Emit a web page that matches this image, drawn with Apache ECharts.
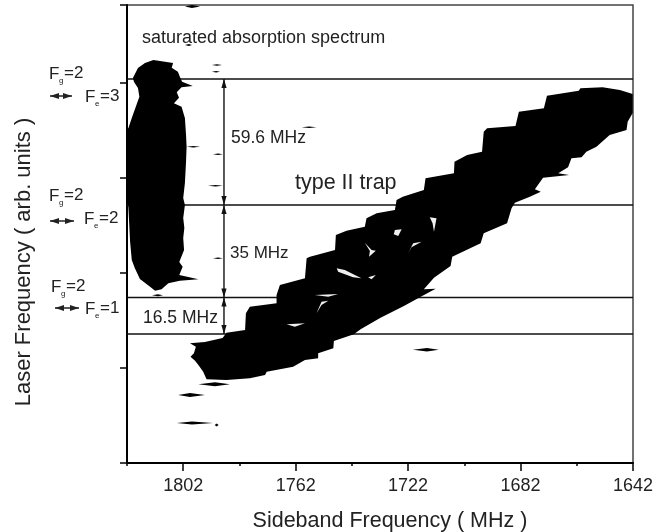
<!DOCTYPE html>
<html>
<head>
<meta charset="utf-8">
<style>html,body{margin:0;padding:0;background:#fff}#c{width:667px;height:532px}</style>
<script src="https://cdn.jsdelivr.net/npm/echarts@6/dist/echarts.min.js"></script>
</head>
<body>
<div id="c"></div>
<script>
// Sideband frequency axis (MHz, decreasing to the right); laser frequency in arb. units
const majorTicks = [1802, 1762, 1722, 1682, 1642];
const minorTicks = [1822, 1782, 1742, 1702, 1662];
const hyperfineLevels = [384, 258, 165.5, 129];
const levelSpacings = [[384, 258], [258, 165.5], [165.5, 129]];
const spacingMHz = 1787.5;

// Contour of the vertical (saturated absorption) region
const absorptionContour = [
[1812.6,403],[1808.5,401.3],[1805.6,400],[1806.1,395.3],[1803.9,391.3],[1803.2,386.3],[1802.4,381.3],[1798.6,377],
[1802.6,375.7],[1804.3,370.7],[1803.5,365.3],[1805.3,359.7],[1802.6,356.3],[1801.4,345],[1801,328],[1800.8,316.3],
[1801,301.3],[1801.4,280],[1802,265],[1801.4,258],[1802,245],[1801.6,235],[1802,225],[1801.7,213],[1803.4,201],
[1802.2,196.3],[1803.4,188],[1796.6,183.7],[1803.2,182.3],[1807.3,179.7],[1809.7,173.7],[1812,172.3],[1813.8,176.3],
[1817.4,184],[1819.2,194.7],[1820.3,203],[1820.9,221.3],[1821.5,255],[1822,268],[1822,333],[1821.5,335],[1820.3,345],
[1817.6,366.3],[1818.1,375],[1819.5,381],[1819.9,385],[1818.1,395],[1815.6,400]
];
// Contour of the diagonal (type II trap) region
const trapContour = [
[1799.4,106.3],[1798.2,109.7],[1797.5,116.3],[1799.6,119.7],[1794.3,121],[1788,125],[1786.6,130.3],[1780,133],
[1779.7,149.7],[1778.3,156.3],[1768.8,159.7],[1768.8,168],[1767.6,178],[1758.7,184.7],[1758.1,204.7],[1756.9,206.3],
[1748,213],[1747.7,228],[1743.9,232.3],[1737.4,236.3],[1736.8,244.7],[1733.2,249.7],[1726.7,253],[1726.1,263],
[1723.9,266.3],[1716.4,273],[1715.8,284.7],[1705.7,289.7],[1705.5,301.3],[1701,308],[1695.7,311.3],[1695.1,331.3],
[1693.9,334.7],[1683.8,337],[1682.6,351.3],[1673.7,354.7],[1672.6,367.3],[1661.3,372.3],[1660.7,374.7],[1652.8,375.7],
[1646.7,373],[1642.1,369],[1642.1,350],[1643.9,341.3],[1644.3,333],[1650.3,328],[1655,316.3],[1658.6,311.3],
[1660.3,305.7],[1663.9,304.7],[1665.1,295.7],[1668.6,289.7],[1664.7,288],[1674,285.3],[1676.9,273.7],[1674.8,271.3],
[1678.7,266.3],[1684,260.3],[1685.2,254.7],[1686.8,239.7],[1695.1,229.7],[1696.2,219.7],[1706.3,206.3],[1706.9,197],
[1712.8,185.3],[1716.4,173.7],[1712.2,174.3],[1717,167],[1723.5,157],[1731.8,145.3],[1738.9,133.7],[1741.3,128.7],
[1748.4,122],[1748.6,114.7],[1754,109.7],[1754,104.7],[1758.7,103],[1762.9,96.3],[1772.3,91.3],[1772.9,88],
[1778.3,84.7],[1786.6,83],[1793.7,83.7],[1794.9,91.3],[1796.6,98],[1797.8,102.3]
];
// Low-signal gaps inside the trap region
const gapA = [[1747.4,194.7],[1744.5,193],[1738.6,184.7],[1741.6,185.7],[1746.9,191.3]];
const gapB = [[1736.2,185.7],[1733.5,188],[1735,183.7]];
const gapC = [[1726.7,233],[1724.3,233.7],[1725.5,227],[1727.1,228.7]];
const gapD = [[1714.3,245.7],[1711.9,244.7],[1712.8,231.3],[1713.3,239.7]];
const gapE = [[1722,209.7],[1720.2,219.7],[1717.2,221.3],[1720.8,215.7]];
const gapF = [[1737.4,220.3],[1735,213],[1733.5,212.3],[1735.9,206.3],[1735.6,212]];
const gapG = [[1755.2,168],[1746.9,169],[1750.4,166.3]];
const gapH = [[1754.6,149.7],[1752.8,161.3],[1750.4,162.3],[1752.8,158]];
const gapI = [[1765.2,138.7],[1758.7,139.7],[1762.3,136.3]];
const gaps = [gapA, gapB, gapC, gapD, gapE, gapF, gapG, gapH, gapI];
// Isolated thin features: [MHz start, MHz centre, MHz end, arb. level, arb. half thickness]
const streaks = [
[1796.6,1790.7,1785.4,78.7,2],[1803.8,1799.6,1794.3,68,2],[1804.3,1798.9,1791.4,40,1.5],[1790.8,1790.1,1789.4,38,1.6],
[1720.3,1715.3,1711.1,113.3,1.8],[1801.4,1798.9,1796,456.5,1.5],[1801.4,1800,1798.9,418,1],[1791.8,1790,1788.2,398,0.8],
[1791.8,1790.3,1788.9,391.3,0.8],[1759.9,1757.2,1754.6,335.7,0.7],[1791.4,1789.6,1787.9,308.7,0.7],[1793.2,1790.5,1787.9,277.3,0.7],
[1791.4,1789.6,1787.9,204.7,0.7],[1813.1,1811,1809.2,167.7,1],[1800.8,1798.4,1796,316.3,0.8]
];
const streakPolys = streaks.map(s => [[s[0],s[3]],[s[1],s[3]+s[4]],[s[2],s[3]],[s[1],s[3]-s[4]]]);
const blackShapes = [absorptionContour, trapContour].concat(streakPolys);

const FONT = '"Liberation Sans", Arial, sans-serif';
const INK = '#222';
function polySeries(name, shapes, fill, z) {
  return {
    type: 'custom', name, coordinateSystem: 'cartesian2d', xAxisIndex: 0, yAxisIndex: 0, silent: true, z,
    data: shapes.map((s, i) => [s[0][0], s[0][1], i]),
    renderItem: (p, api) => ({
      type: 'polygon',
      shape: { points: shapes[p.dataIndex].map(v => api.coord(v)) },
      style: { fill }
    })
  };
}
function txt(x, y, text, size, extra) {
  return Object.assign({ type: 'text', x, y, silent: true, z: 20,
    style: { text, fontFamily: FONT, fontSize: size, fill: INK, verticalAlign: 'middle', textAlign: 'left' } }, extra || {});
}
function level(xF, y, sub, rest) {
  return [txt(xF, y, 'F', 17), txt(xF + 10, y + 7, sub, 8), txt(xF + 15, y - 1, rest, 17)];
}
function dblArrow(x0, x1, y) {
  const c = '#222';
  return [
    { type: 'line', shape: { x1: x0, y1: y, x2: x1, y2: y }, style: { stroke: c, lineWidth: 1.5 }, silent: true },
    { type: 'polygon', shape: { points: [[x0, y], [x0 + 9, y - 3], [x0 + 9, y + 3]] }, style: { fill: c }, silent: true },
    { type: 'polygon', shape: { points: [[x1, y], [x1 - 9, y - 3], [x1 - 9, y + 3]] }, style: { fill: c }, silent: true }
  ];
}
const graphics = [].concat(
  [txt(142, 38, 'saturated absorption spectrum', 18)],
  [txt(231, 138, '59.6 MHz', 17.5), txt(230, 253, '35 MHz', 17), txt(143, 318, '16.5 MHz', 17.5), txt(295, 183, 'type II trap', 21.5)],
  level(49, 74, 'g', '=2'), level(85, 97, 'e', '=3'), dblArrow(50, 72, 96),
  level(49, 196, 'g', '=2'), level(84, 219, 'e', '=2'), dblArrow(50, 74, 221),
  level(51, 287, 'g', '=2'), level(85, 309, 'e', '=1'), dblArrow(55, 79, 308)
);

const chart = echarts.init(document.getElementById('c'), null, { renderer: 'canvas' });
chart.setOption({
  animation: false,
  backgroundColor: '#fff',
  grid: { left: 127, right: 34, top: 5, bottom: 69, outerBoundsMode: 'none', show: true, borderColor: '#444', borderWidth: 1.5, backgroundColor: '#fff' },
  xAxis: [{
    type: 'value', position: 'bottom', inverse: true, min: 1642, max: 1822, scale: true,
    name: 'Sideband Frequency ( MHz )', nameLocation: 'middle', nameGap: 47,
    nameTextStyle: { fontFamily: FONT, fontSize: 21.5, color: INK, padding: [0, 0, 0, 20] },
    axisLine: { show: true, onZero: false, lineStyle: { color: '#000', width: 2 } },
    axisTick: { show: true, length: 8, customValues: majorTicks, lineStyle: { color: '#000', width: 1.5 } },
    axisLabel: { show: true, margin: 14, customValues: majorTicks, formatter: v => String(v), fontFamily: FONT, fontSize: 18, color: INK },
    splitLine: { show: false }
  }, {
    type: 'value', position: 'bottom', inverse: true, min: 1642, max: 1822, scale: true,
    axisLine: { show: false, onZero: false },
    axisTick: { show: true, length: 3, customValues: minorTicks, lineStyle: { color: '#000', width: 1.5 } },
    axisLabel: { show: false }, splitLine: { show: false }
  }],
  yAxis: {
    type: 'value', min: 0, max: 458, interval: 95,
    name: 'Laser Frequency ( arb. units )', nameLocation: 'middle', nameGap: 92, nameRotate: 90,
    nameTextStyle: { fontFamily: FONT, fontSize: 22, color: INK, padding: [0, 56, 0, 0] },
    axisLine: { show: true, onZero: false, lineStyle: { color: '#000', width: 2 } },
    axisTick: { show: true, length: 7, lineStyle: { color: '#000', width: 1.5 } },
    axisLabel: { show: false }, splitLine: { show: false }
  },
  series: [
    {
      type: 'custom', name: 'hyperfine levels', coordinateSystem: 'cartesian2d', silent: true, z: 3,
      data: hyperfineLevels.map(v => [1822, v]),
      renderItem: (p, api) => {
        const a = api.coord([1822, api.value(1)]), b = api.coord([1642, api.value(1)]);
        return { type: 'line', shape: { x1: a[0], y1: a[1], x2: b[0], y2: b[1] }, style: { stroke: '#111', lineWidth: 1.6 } };
      }
    },
    {
      type: 'custom', name: 'level spacings', coordinateSystem: 'cartesian2d', silent: true, z: 4,
      data: levelSpacings.map(v => [spacingMHz, v[0], v[1]]),
      renderItem: (p, api) => {
        const a = api.coord([api.value(0), api.value(1)]), b = api.coord([api.value(0), api.value(2)]);
        const x = a[0];
        return { type: 'group', children: [
          { type: 'line', shape: { x1: x, y1: a[1], x2: x, y2: b[1] }, style: { stroke: '#111', lineWidth: 1.4 } },
          { type: 'polygon', shape: { points: [[x, a[1]], [x - 2.6, a[1] + 9], [x + 2.6, a[1] + 9]] }, style: { fill: '#111' } },
          { type: 'polygon', shape: { points: [[x, b[1]], [x - 2.6, b[1] - 9], [x + 2.6, b[1] - 9]] }, style: { fill: '#111' } }
        ] };
      }
    },
    polySeries('contours', blackShapes, '#000', 5),
    polySeries('gaps', gaps, '#f0f0f0', 6)
  ],
  graphic: graphics
});
</script>
</body>
</html>
